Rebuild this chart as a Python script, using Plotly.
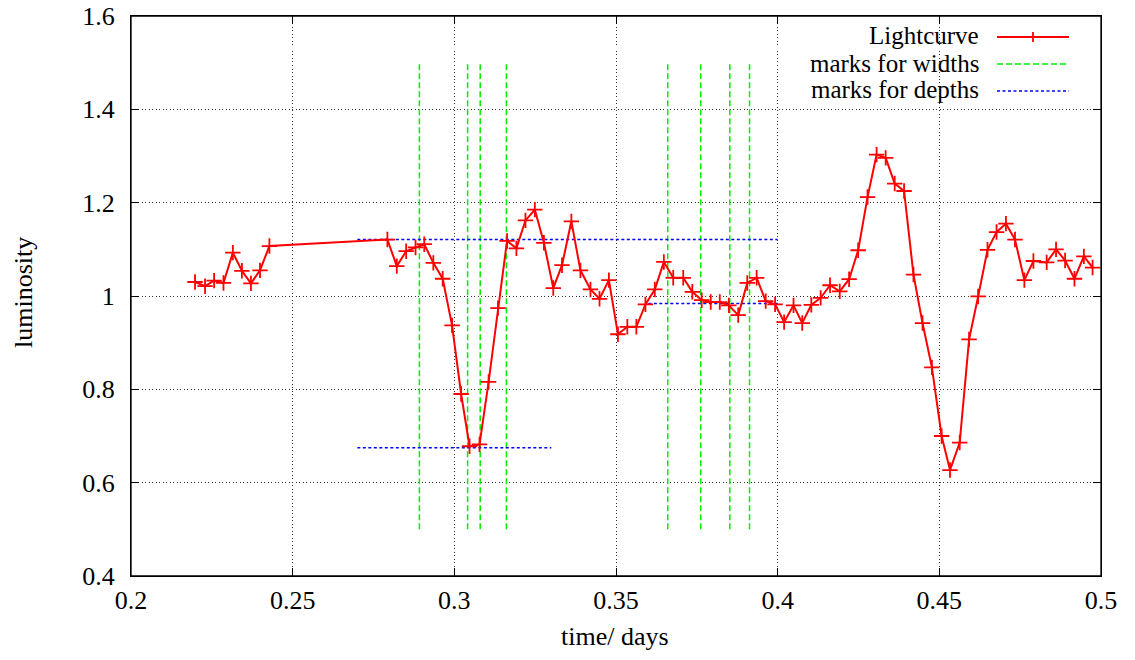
import plotly.graph_objects as go

# Lightcurve data (time in days, luminosity)
time_days = [0.2198, 0.2229, 0.2257, 0.2286, 0.2315, 0.2343, 0.2371, 0.2399, 0.2428,
             0.2793, 0.2822, 0.2851, 0.2880, 0.2907, 0.2935, 0.2964, 0.2993, 0.3021,
             0.3047, 0.3078, 0.3106, 0.3135, 0.3163, 0.3192, 0.3220, 0.3249, 0.3277,
             0.3306, 0.3333, 0.3362, 0.3390, 0.3421, 0.3449, 0.3478, 0.3506, 0.3535,
             0.3563, 0.3591, 0.3620, 0.3648, 0.3677, 0.3708, 0.3736, 0.3765, 0.3793,
             0.3821, 0.3849, 0.3878, 0.3906, 0.3935, 0.3963, 0.3992, 0.4020, 0.4049,
             0.4076, 0.4104, 0.4133, 0.4162, 0.4192, 0.4221, 0.4249, 0.4278, 0.4306,
             0.4334, 0.4362, 0.4391, 0.4420, 0.4448, 0.4477, 0.4507, 0.4533, 0.4563,
             0.4592, 0.4620, 0.4649, 0.4677, 0.4706, 0.4734, 0.4763, 0.4791, 0.4832,
             0.4861, 0.4889, 0.4918, 0.4947, 0.4974]
luminosity = [1.030, 1.021, 1.033, 1.028, 1.093, 1.054, 1.027, 1.055, 1.107,
              1.121, 1.064, 1.096, 1.104, 1.111, 1.071, 1.037, 0.937, 0.790,
              0.678, 0.682, 0.816, 0.974, 1.118, 1.102, 1.162, 1.185, 1.114,
              1.017, 1.066, 1.160, 1.055, 1.014, 0.994, 1.034, 0.918, 0.934,
              0.934, 0.982, 1.014, 1.073, 1.039, 1.039, 1.009, 0.991, 0.987,
              0.987, 0.980, 0.959, 1.028, 1.039, 0.989, 0.982, 0.944, 0.980,
              0.942, 0.981, 0.996, 1.023, 1.010, 1.036, 1.098, 1.212, 1.303,
              1.296, 1.241, 1.225, 1.046, 0.942, 0.847, 0.700, 0.627, 0.686,
              0.907, 0.999, 1.099, 1.137, 1.155, 1.121, 1.034, 1.075, 1.072,
              1.100, 1.076, 1.037, 1.085, 1.061]

# Width marks (vertical lines) and their extent
width_marks = [0.2892, 0.3041, 0.3080, 0.3161, 0.3660, 0.3762, 0.3852, 0.3913]
width_ymin, width_ymax = 0.5, 1.5

# Depth marks (horizontal lines): level, x start, x end
depth_levels = [1.121, 0.675, 0.984]
depth_x0 = [0.27, 0.27, 0.36]
depth_x1 = [0.40, 0.33, 0.40]

x_ticks = [0.2, 0.25, 0.3, 0.35, 0.4, 0.45, 0.5]
x_tick_labels = ["0.2", "0.25", "0.3", "0.35", "0.4", "0.45", "0.5"]
y_ticks = [0.4, 0.6, 0.8, 1.0, 1.2, 1.4, 1.6]
y_tick_labels = ["0.4", "0.6", "0.8", "1", "1.2", "1.4", "1.6"]

FONT = "Liberation Serif"
FS = 26
LFS = 25
GREEN = "#00ee00"
BLUE = "#0000ff"
RED = "#ff0000"
GREEN_DASH = "6px,3px"
BLUE_DASH = "3px,2.5px"

# figure geometry (body margin removed via post_script)
W, H = 1135, 660
L, R, T, B = 131, 34, 16, 84
pw, ph = W - L - R, H - T - B


def sx(px):  # screen px -> paper x
    return (px - L) / pw


def sy(py):  # screen px -> paper y
    return 1 - (py - T) / ph


fig = go.Figure()

# green width marks
gx, gy = [], []
for t in width_marks:
    gx += [t, t, None]
    gy += [width_ymin, width_ymax, None]
fig.add_trace(go.Scatter(x=gx, y=gy, mode="lines", name="marks for widths",
                         line=dict(color=GREEN, width=1.5, dash=GREEN_DASH)))

# blue depth marks
bx, by = [], []
for lv, a, b in zip(depth_levels, depth_x0, depth_x1):
    bx += [a, b, None]
    by += [lv, lv, None]
fig.add_trace(go.Scatter(x=bx, y=by, mode="lines", name="marks for depths",
                         line=dict(color=BLUE, width=1.5, dash=BLUE_DASH)))

# lightcurve
fig.add_trace(go.Scatter(x=time_days, y=luminosity, mode="lines+markers", name="Lightcurve",
                         line=dict(color=RED, width=2),
                         marker=dict(symbol="cross-thin", size=11,
                                     line=dict(color=RED, width=1.8))))

axis_common = dict(showline=True, linecolor="black", linewidth=1.3, mirror="ticks",
                   ticks="inside", ticklen=8, tickcolor="black", tickwidth=1.3,
                   showgrid=True, gridcolor="#333333", griddash="1px,2.5px", gridwidth=1,
                   zeroline=False, automargin=False, ticklabeloverflow="allow",
                   tickfont=dict(family=FONT, size=FS, color="black"))

fig.update_xaxes(range=[0.2, 0.5], tickvals=x_ticks, ticktext=x_tick_labels,
                 ticklabelstandoff=1, **axis_common)
fig.update_yaxes(range=[0.4, 1.6], tickvals=y_ticks, ticktext=y_tick_labels,
                 ticklabelstandoff=10, **axis_common)

# plot frame (guarantees the full box)
fig.add_shape(type="rect", xref="paper", yref="paper", x0=0, x1=1, y0=0, y1=1,
              line=dict(color="black", width=1.3), fillcolor="rgba(0,0,0,0)", layer="above")

# axis titles
fig.add_annotation(x=sx(615), y=sy(636), xref="paper", yref="paper", text="time/ days",
                   showarrow=False, xanchor="center", yanchor="middle",
                   font=dict(family=FONT, size=FS, color="black"))
fig.add_annotation(x=sx(23), y=sy(293), xref="paper", yref="paper", text="luminosity",
                   showarrow=False, xanchor="center", yanchor="middle", textangle=-90,
                   font=dict(family=FONT, size=FS, color="black"))

# gnuplot-style legend (text right-aligned, sample on the right)
legend_items = [("Lightcurve", RED, "solid", 2, True),
                ("marks for widths", GREEN, GREEN_DASH, 1.5, False),
                ("marks for depths", BLUE, BLUE_DASH, 1.5, False)]
legend_y = [37, 64, 91]
for (txt, col, dash, w, mk), yy in zip(legend_items, legend_y):
    fig.add_annotation(x=sx(980), y=sy(yy - 1), xref="paper", yref="paper",
                       text=txt, showarrow=False, xanchor="right", yanchor="middle",
                       borderpad=0, height=27, valign="middle",
                       font=dict(family=FONT, size=LFS, color="black"))
    fig.add_shape(type="line", xref="paper", yref="paper",
                  x0=sx(997), x1=sx(1069), y0=sy(yy), y1=sy(yy),
                  line=dict(color=col, width=w, dash=dash))
    if mk:
        fig.add_shape(type="line", xref="paper", yref="paper",
                      x0=sx(1033), x1=sx(1033), y0=sy(yy - 5), y1=sy(yy + 5),
                      line=dict(color=col, width=1.8))

fig.update_layout(width=W, height=H, margin=dict(l=L, r=R, t=T, b=B, autoexpand=False),
                  paper_bgcolor="white", plot_bgcolor="white", showlegend=False,
                  font=dict(family=FONT, size=FS, color="black"))

fig.write_html("out.html", config={"displayModeBar": False},
               post_script="document.body.style.margin='0';document.body.style.padding='0';")
